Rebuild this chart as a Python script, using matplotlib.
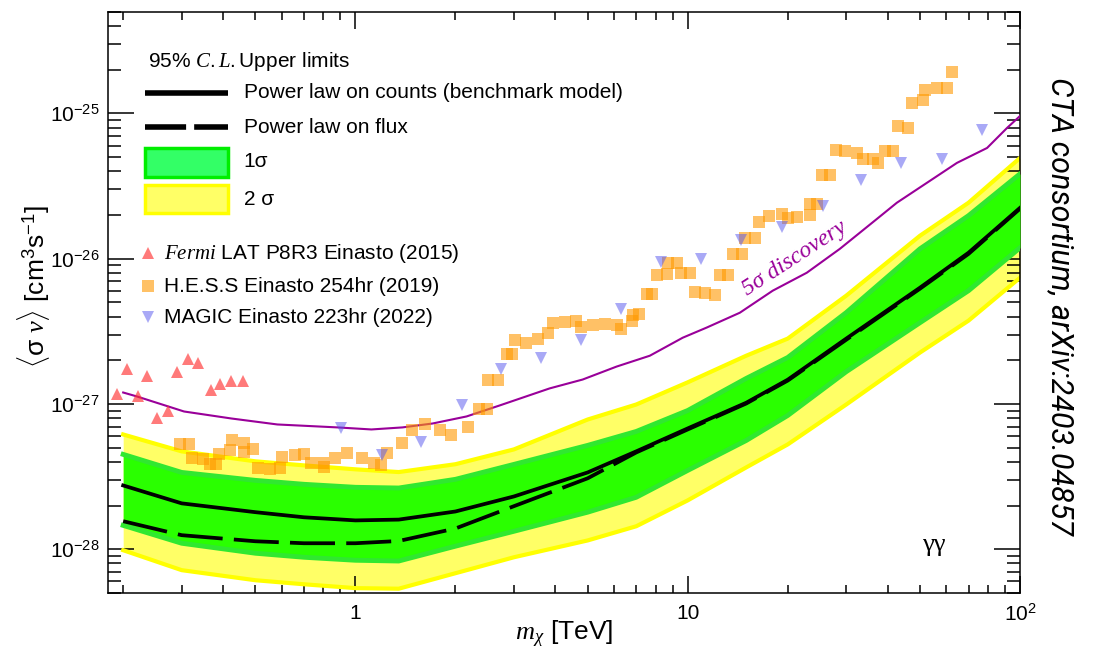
import numpy as np
import matplotlib
matplotlib.use("Agg")
import matplotlib.pyplot as plt
from matplotlib.patches import Rectangle
from matplotlib.ticker import FixedLocator, FixedFormatter, LogLocator, NullFormatter

plt.rcParams['font.family'] = ['Liberation Sans', 'DejaVu Sans']
plt.rcParams['mathtext.fontset'] = 'custom'
plt.rcParams['mathtext.rm'] = 'Liberation Sans'
plt.rcParams['mathtext.it'] = 'Liberation Serif:italic'
plt.rcParams['mathtext.bf'] = 'Liberation Sans:bold'

# CTA gamma-gamma line sensitivity, <sigma v> in units of 1e-27 cm^3 s^-1
mass = [0.2, 0.3, 0.5, 0.7, 1.0, 1.35, 2.0, 3.0, 5.0, 7.0, 10, 15, 20, 30, 50, 70, 100]
sv_counts = [0.275, 0.207, 0.180, 0.166, 0.158, 0.160, 0.182, 0.231, 0.338, 0.472,
             0.679, 1.02, 1.47, 2.82, 6.32, 11.0, 22.4]
sv_flux = [0.156, 0.125, 0.1135, 0.110, 0.110, 0.114, 0.139, 0.198, 0.308, 0.464,
           0.668, 1.008, 1.45, 2.77, 6.22, 10.8, 22.1]
sig1_hi = [0.450, 0.338, 0.298, 0.280, 0.267, 0.264, 0.303, 0.384, 0.519, 0.647,
           0.902, 1.50, 2.09, 4.26, 11.7, 19.8, 38.4]
sig1_lo = [0.146, 0.110, 0.0939, 0.0881, 0.0840, 0.0830, 0.105, 0.133, 0.180, 0.228,
           0.349, 0.561, 0.834, 1.67, 3.63, 6.03, 11.9]
sig2_hi = [0.617, 0.472, 0.403, 0.378, 0.355, 0.340, 0.385, 0.487, 0.782, 0.992,
           1.41, 2.15, 2.82, 5.57, 14.4, 24.3, 49.4]
sig2_lo = [0.0985, 0.0718, 0.0612, 0.0574, 0.0540, 0.0535, 0.0684, 0.0881, 0.115, 0.144,
           0.217, 0.366, 0.527, 0.992, 2.26, 3.75, 7.40]

# 5 sigma discovery reach
mass_5s = [0.2, 0.22, 0.305, 0.423, 0.582, 0.883, 1.117, 1.385, 1.706, 2.16, 2.716,
           3.839, 4.829, 6.109, 7.691, 9.66, 11.41, 14.35, 18.03, 22.82, 28.7, 37.1,
           42.6, 54.7, 64.6, 79.6, 91.4, 100]
sv_5s = [1.20, 1.127, 0.888, 0.795, 0.723, 0.690, 0.668, 0.690, 0.734, 0.821, 0.977,
         1.28, 1.474, 1.81, 2.15, 2.86, 3.36, 4.25, 6.03, 8.01, 11.7, 18.8,
         24.3, 35.5, 45.7, 57.9, 79.5, 96.1]

# Fermi-LAT P8R3 Einasto (2015)
mass_fermi = [0.192, 0.206, 0.222, 0.236, 0.252, 0.273, 0.291, 0.314, 0.337, 0.368,
              0.392, 0.423, 0.460]
sv_fermi = [1.18, 1.73, 1.14, 1.55, 0.807, 0.90, 1.65, 2.05, 1.93, 1.24, 1.38, 1.45, 1.45]

# H.E.S.S. Einasto 254 hr (2019)
mass_hess = [0.297, 0.316, 0.323, 0.348, 0.366, 0.381, 0.389, 0.420, 0.426, 0.463,
             0.463, 0.493, 0.510, 0.555, 0.594, 0.603, 0.659, 0.702, 0.737, 0.796,
             0.807, 0.871, 0.946, 1.043, 1.141, 1.198, 1.248, 1.385, 1.475, 1.614,
             1.791, 1.945, 2.175, 2.362, 2.483, 2.498, 2.679, 2.851, 2.951, 3.013,
             3.251, 3.532, 3.786, 3.920, 4.263, 4.600, 4.761, 5.175, 5.623, 6.109,
             6.283, 6.778, 6.823, 7.117, 7.530, 7.793, 8.072, 8.646, 8.707, 9.268,
             9.528, 10.14, 10.50, 11.25, 12.06, 12.48, 13.20, 13.67, 14.55, 14.86,
             15.92, 16.36, 17.54, 19.19, 20.0, 21.29, 23.29, 23.29, 24.47, 25.33,
             26.79, 27.91, 29.72, 32.28, 33.65, 36.07, 37.35, 39.21, 41.43, 42.92,
             46.01, 47.29, 51.05, 51.76, 56.23, 60.26, 62.37]
sv_hess = [0.527, 0.527, 0.422, 0.416, 0.384, 0.384, 0.450, 0.479, 0.561, 0.535,
           0.464, 0.487, 0.360, 0.355, 0.360, 0.429, 0.443, 0.450, 0.390, 0.390,
           0.366, 0.422, 0.457, 0.422, 0.390, 0.378, 0.457, 0.535, 0.658, 0.723,
           0.658, 0.608, 0.690, 0.917, 0.917, 1.474, 1.474, 2.224, 2.224, 2.775,
           2.648, 2.818, 3.099, 3.631, 3.690, 3.750, 3.412, 3.516, 3.573, 3.516,
           3.304, 3.750, 4.121, 4.188, 5.744, 5.744, 7.762, 7.887, 9.391, 9.391,
           8.014, 8.014, 5.933, 5.839, 5.659, 7.762, 7.762, 10.82, 10.82, 13.94,
           13.94, 17.96, 19.75, 20.37, 19.14, 19.45, 20.06, 23.88, 23.88, 37.79,
           37.79, 56.1, 55.2, 53.5, 48.7, 48.7, 45.7, 55.2, 55.2, 82.0,
           79.5, 118, 124, 145, 150, 150, 193]

# MAGIC Einasto 223 hr (2022)
mass_magic = [0.908, 1.20, 1.58, 2.10, 2.75, 3.61, 4.76, 6.28, 8.29, 11.0, 14.5,
              19.2, 25.5, 33.2, 43.8, 58.2, 76.8]
sv_magic = [0.689, 0.443, 0.544, 0.99, 1.75, 2.09, 2.77, 4.53, 9.53, 10.0, 13.5,
            16.6, 23.1, 34.9, 45.7, 48.7, 77.0]

y_ticks = [1e-28, 1e-27, 1e-26, 1e-25]
y_labels = [r'$10^{-28}$', r'$10^{-27}$', r'$10^{-26}$', r'$10^{-25}$']
x_ticks = [1, 10, 100]
x_labels = ['1', '10', r'$10^{2}$']

E27 = 1e-27


def scaled(values):
    return np.array(values) * E27


fig = plt.figure(figsize=(10.95, 6.54), dpi=100)
ax = fig.add_axes([0.0986, 0.0933, 0.8329, 0.8884])

yellow_fill, yellow_edge = '#ffff66', '#ffff00'
green_fill, green_edge = '#2aff00', '#30e830'

# expected-limit bands
ax.fill_between(mass, scaled(sig2_lo), scaled(sig2_hi), color=yellow_fill, lw=0, zorder=1)
ax.plot(mass, scaled(sig2_hi), color=yellow_edge, lw=3, zorder=2)
ax.plot(mass, scaled(sig2_lo), color=yellow_edge, lw=3, zorder=2)
ax.fill_between(mass, scaled(sig1_lo), scaled(sig1_hi), color=green_fill, lw=0, zorder=3)
ax.plot(mass, scaled(sig1_hi), color=green_edge, lw=3.5, zorder=4)
ax.plot(mass, scaled(sig1_lo), color=green_edge, lw=3.5, zorder=4)

ax.plot(mass, scaled(sv_counts), color='black', lw=2.7, zorder=5)
ax.plot(mass, scaled(sv_flux), color='black', lw=2.7, ls=(0, (12, 3)), zorder=5)

ax.plot(mass_5s, scaled(sv_5s), color='#990099', lw=1.5, zorder=6)
ax.text(21.0, 1.0e-26, '5σ discovery', color='#990099', family='Liberation Serif',
        style='italic', fontsize=17, rotation=33, rotation_mode='anchor',
        ha='center', va='center', zorder=6)

fermi_kw = dict(marker='^', color='#ff3333', alpha=0.65, ms=8, mew=0, ls='none')
hess_kw = dict(marker='s', color='#ff9900', alpha=0.6, ms=8, mew=0, ls='none')
magic_kw = dict(marker='v', color='#5555ee', alpha=0.5, ms=8, mew=0, ls='none')

ax.plot(mass_fermi, scaled(sv_fermi), zorder=7, **fermi_kw)
ax.plot(mass_hess, scaled(sv_hess), zorder=7, **hess_kw)
ax.plot(mass_magic, scaled(sv_magic), zorder=7, **magic_kw)

ax.text(0.905, 0.083, 'γγ', transform=ax.transAxes, family='Liberation Serif',
        fontsize=19, ha='center', va='center')

# legend, drawn by hand in axes coordinates
T = ax.transAxes
fs = 15
ax.text(0.044, 0.914, r'95% $\mathit{C.L.}$Upper limits', transform=T, fontsize=fs,
        ha='left', va='center')
ax.plot([0.0406, 0.1316], [0.8606, 0.8606], transform=T, color='black', lw=4,
        solid_capstyle='butt')
ax.text(0.149, 0.8606, 'Power law on counts (benchmark model)', transform=T,
        fontsize=fs, ha='left', va='center')
ax.plot([0.0406, 0.1316], [0.802, 0.802], transform=T, color='black', lw=4,
        ls=(0, (7.4, 1.45)), dash_capstyle='butt')
ax.text(0.149, 0.802, 'Power law on flux', transform=T, fontsize=fs, ha='left',
        va='center')
ax.add_patch(Rectangle((0.0406, 0.716), 0.091, 0.050, transform=T,
                       facecolor='#33ff66', edgecolor='#00ee00', lw=2.5))
ax.text(0.149, 0.742, '1σ', transform=T, fontsize=fs, ha='left', va='center')
ax.add_patch(Rectangle((0.0406, 0.654), 0.091, 0.048, transform=T,
                       facecolor=yellow_fill, edgecolor=yellow_edge, lw=2.5))
ax.text(0.149, 0.678, '2 σ', transform=T, fontsize=fs, ha='left', va='center')

for y, kw, label in [(0.585, fermi_kw, r'$\mathit{Fermi}$ LAT P8R3 Einasto (2015)'),
                     (0.528, hess_kw, 'H.E.S.S Einasto 254hr (2019)'),
                     (0.475, magic_kw, 'MAGIC Einasto 223hr (2022)')]:
    ax.plot([0.044], [y], transform=T, **kw)
    ax.text(0.0614, y, label, transform=T, fontsize=fs, ha='left', va='center')

ax.set_xscale('log')
ax.set_yscale('log')
ax.set_xlim(0.18, 100)
ax.set_ylim(5e-29, 5e-25)

ax.xaxis.set_major_locator(FixedLocator(x_ticks))
ax.xaxis.set_major_formatter(FixedFormatter(x_labels))
ax.xaxis.set_minor_locator(LogLocator(base=10, subs=np.arange(2, 10)))
ax.xaxis.set_minor_formatter(NullFormatter())
ax.yaxis.set_major_locator(FixedLocator(y_ticks))
ax.yaxis.set_major_formatter(FixedFormatter(y_labels))
ax.yaxis.set_minor_locator(LogLocator(base=10, subs=np.arange(2, 10), numticks=20))
ax.yaxis.set_minor_formatter(NullFormatter())

ax.tick_params(which='both', direction='in', top=True, right=True, width=1.1,
               labelsize=15)
ax.tick_params(axis='x', which='major', length=12, pad=8)
ax.tick_params(axis='x', which='minor', length=6)
ax.tick_params(axis='y', which='major', length=19, pad=6)
ax.tick_params(axis='y', which='minor', length=9.5)
for sp in ax.spines.values():
    sp.set_linewidth(1.1)

ax.set_xlabel(r'$\mathit{m}_{\chi}$ [TeV]', fontsize=19)
ax.xaxis.set_label_coords(0.5, -0.045)
ax.set_ylabel(r'$\langle\mathrm{\sigma}\ \mathit{\nu}\rangle$ [cm$^{3}$s$^{-1}$]', fontsize=19)
ax.yaxis.set_label_coords(-0.061, 0.528)

fig.text(0.968, 0.532, 'CTA consortium, arXiv:2403.04857', rotation=-90,
         family='Roboto', style='italic', fontsize=22, color='black',
         ha='center', va='center')

fig.savefig('out.png', dpi=100)
